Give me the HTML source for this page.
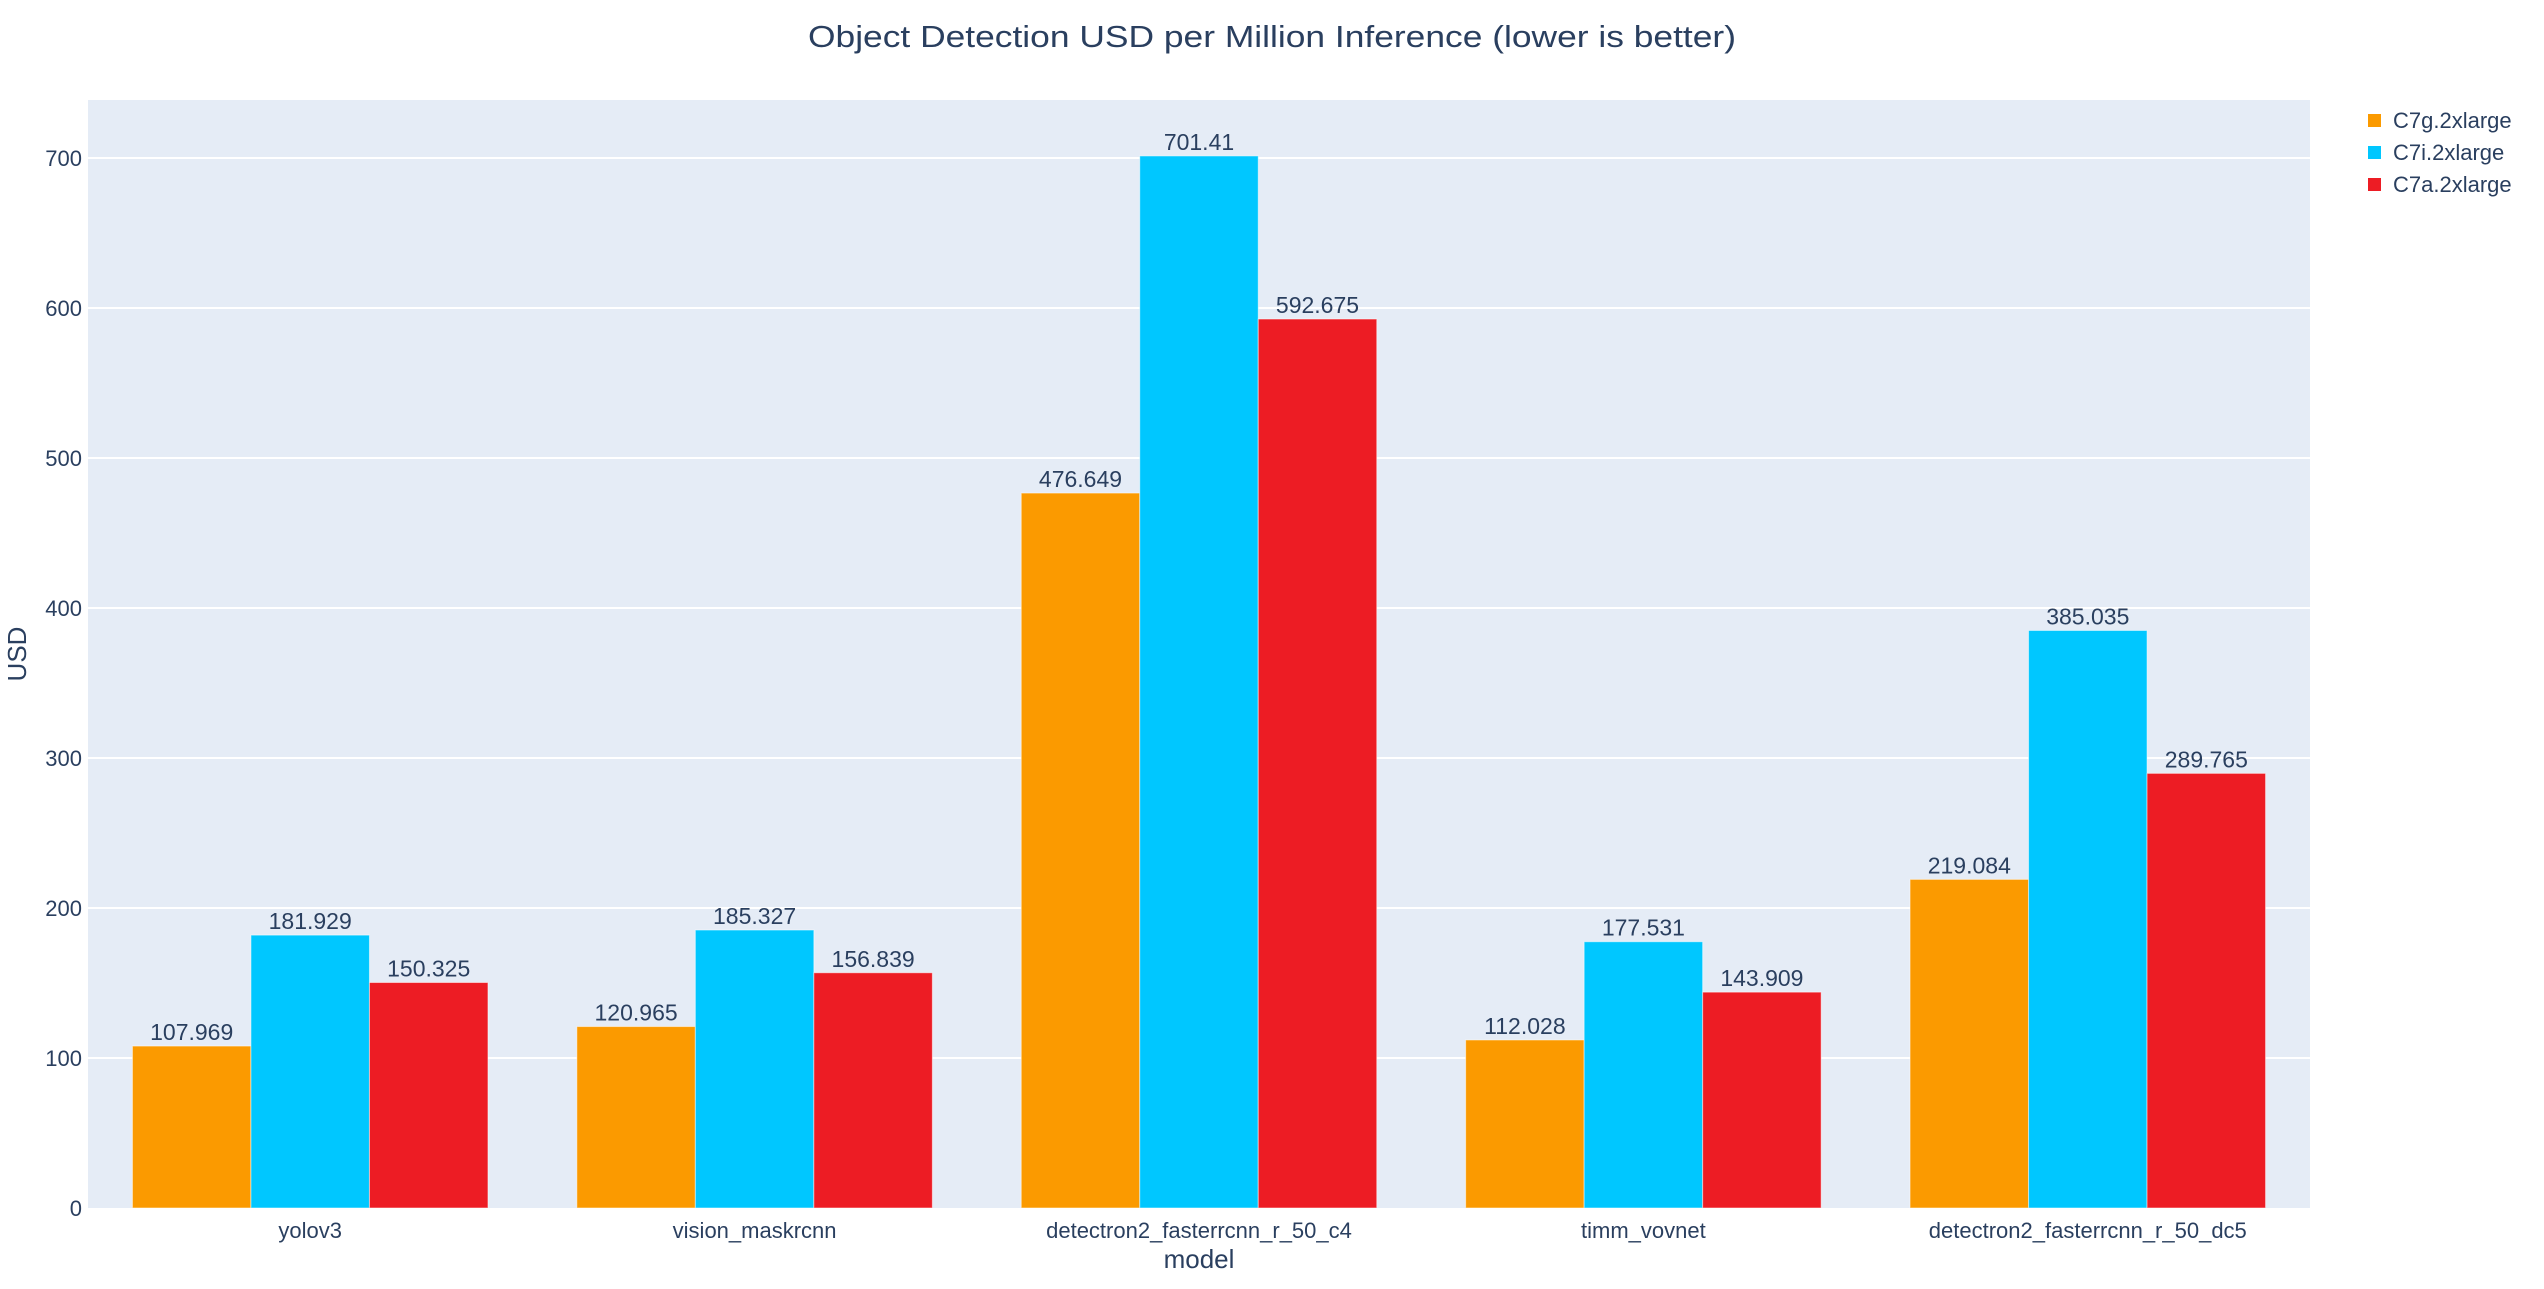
<!DOCTYPE html>
<html><head><meta charset="utf-8"><style>
body{margin:0;background:#fff;}
svg{display:block;font-family:"Liberation Sans","DejaVu Sans",sans-serif;}
</style></head><body>
<svg id="chart" width="2544" height="1289" xmlns="http://www.w3.org/2000/svg">
<rect x="0" y="0" width="2544" height="1289" fill="#fff"/>
<rect x="88" y="100" width="2222" height="1108" fill="#e5ecf6"/>
<g id="grid"></g><g id="bars"></g><g id="labels"></g><g id="ticks"></g>
<text x="1272" y="47" text-anchor="middle" font-size="31" textLength="928" lengthAdjust="spacingAndGlyphs" fill="#2a3f5f">Object Detection USD per Million Inference (lower is better)</text>
<text x="1199" y="1268" text-anchor="middle" font-size="26" fill="#2a3f5f">model</text>
<text transform="translate(26,654) rotate(-90)" text-anchor="middle" font-size="26" fill="#2a3f5f">USD</text>
<g id="legend"></g>
</svg>
<script>
const categories=["yolov3","vision_maskrcnn","detectron2_fasterrcnn_r_50_c4","timm_vovnet","detectron2_fasterrcnn_r_50_dc5"];
const seriesNames=["C7g.2xlarge","C7i.2xlarge","C7a.2xlarge"];
const c7g=[107.969,120.965,476.649,112.028,219.084];
const c7i=[181.929,185.327,701.41,177.531,385.035];
const c7a=[150.325,156.839,592.675,143.909,289.765];
const yTicks=[0,100,200,300,400,500,600,700];
const colors=["#fb9a00","#00c7ff","#ed1c24"];
const series=[c7g,c7i,c7a];
const L=88,R=2310,T=100,B=1208,yMax=738.7;
const NS="http://www.w3.org/2000/svg";
const y=v=>B-(v/yMax)*(B-T);
const bw=(R-L)/categories.length;
const barW=bw*0.8/series.length;
const x=i=>L+bw*(i+0.5);
function mk(tag,attrs,parent,text){const e=document.createElementNS(NS,tag);for(const k in attrs)e.setAttribute(k,attrs[k]);if(text!==undefined)e.textContent=text;document.getElementById(parent).appendChild(e);return e;}
yTicks.forEach(t=>{
  if(t>0){const g=mk('line',{x1:L,x2:R,y1:y(t),y2:y(t),stroke:'#fff','stroke-width':2},'grid');
  
  }
  const tl=mk('text',{x:L-6,y:y(t)+8,'text-anchor':'end','font-size':22,fill:'#2a3f5f'},'ticks',String(t));
  
  
});
categories.forEach((c,i)=>{
  const tl=mk('text',{x:x(i),y:B+30,'text-anchor':'middle','font-size':22,fill:'#2a3f5f'},'ticks',c);
  
  
  series.forEach((s,j)=>{
    const x0=x(i)-bw*0.4+j*barW;
    const r=mk('rect',{x:x0,y:y(s[i]),width:barW,height:B-y(s[i]),fill:colors[j],stroke:'rgba(255,255,255,0.5)','stroke-width':1},'bars');
    
    
    const t=mk('text',{x:x0+barW/2,y:y(s[i])-6,'text-anchor':'middle','font-size':23,fill:'#2a3f5f'},'labels',String(s[i]));
    
    
  });
});
seriesNames.forEach((n,j)=>{
  const r=mk('rect',{x:2368,y:114+j*32,width:13,height:13,fill:colors[j]},'legend');
  
  
  const t=mk('text',{x:2393,y:128+j*32,'font-size':22,fill:'#2a3f5f'},'legend',n);
  
  
});
</script>
</body></html>
